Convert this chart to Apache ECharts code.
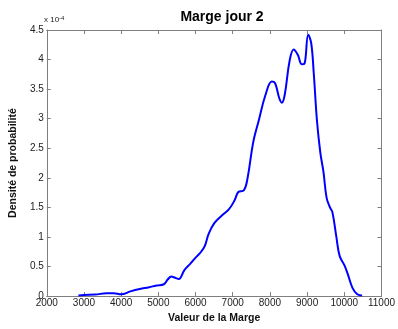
<!DOCTYPE html>
<html><head><meta charset="utf-8">
<script src="https://cdn.jsdelivr.net/npm/echarts@6/dist/echarts.min.js"></script>
<style>html,body{margin:0;padding:0;background:#fff}#c{width:398px;height:329px}</style>
</head><body><div id="c"></div>
<script>
var titleText = "Marge jour 2";
var xLabel = "Valeur de la Marge";
var yLabel = "Densité de probabilité";
var yScaleNote = "x 10";
var yScaleExp = "-4";
// x values (Valeur de la Marge)
var margeValues = [2850,3000,3300,3600,3800,4000,4250,4500,4750,4950,5150,5250,5350,5450,5550,5700,5850,6000,6150,6250,6350,6500,6700,6900,7050,7150,7300,7400,7550,7700,7880,8050,8140,8250,8320,8400,8530,8640,8750,8860,8930,9030,9110,9180,9265,9355,9440,9525,9615,9680,9785,9875,10005,10090,10220,10350,10480];
// density in units of 1e-4
var densityE4 = [0.01,0.02,0.025,0.05,0.05,0.03,0.08,0.12,0.15,0.18,0.2,0.28,0.33,0.31,0.29,0.44,0.54,0.65,0.75,0.85,1.05,1.23,1.36,1.47,1.62,1.76,1.79,2.0,2.6,2.97,3.4,3.63,3.6,3.35,3.27,3.41,3.98,4.17,4.08,3.92,3.93,4.42,4.28,3.76,2.97,2.43,2.10,1.66,1.50,1.42,1.01,0.68,0.52,0.38,0.14,0.03,0.01];
var xTicks = [2000,3000,4000,5000,6000,7000,8000,9000,10000,11000];
var yTicks = [0,0.5,1,1.5,2,2.5,3,3.5,4,4.5];

var pts = margeValues.map(function(v,i){return [v, densityE4[i]];});
var axisCol = '#7f7f7f';
var font = 'Liberation Sans, Arial, sans-serif';
var chart = echarts.init(document.getElementById('c'), null, {renderer:'canvas'});
var baseX = {type:'value', min:xTicks[0], max:xTicks[xTicks.length-1], interval:1000,
  axisLine:{show:true, onZero:false, lineStyle:{color:axisCol,width:1}},
  axisTick:{show:true, inside:true, length:4, lineStyle:{color:axisCol}},
  splitLine:{show:false}};
var baseY = {type:'value', min:yTicks[0], max:yTicks[yTicks.length-1], interval:0.5,
  axisLine:{show:true, onZero:false, lineStyle:{color:axisCol,width:1}},
  axisTick:{show:true, inside:true, length:4, lineStyle:{color:axisCol}},
  splitLine:{show:false}};
chart.setOption({
  animation:false,
  backgroundColor:'#fff',
  title:{text:titleText, left:217, top:5, textAlign:'center',
    textStyle:{fontFamily:font, fontSize:14, fontWeight:'bold', color:'#000'}},
  grid:{left:44, right:8, top:30, bottom:24},
  xAxis:[
    Object.assign({}, baseX, {position:'bottom',
      axisLabel:{show:true, fontFamily:font, fontSize:10, color:'#222', margin:2, showMaxLabel:true,
        formatter:function(v){return String(v);}},
      name:xLabel, nameLocation:'middle', nameGap:12,
      nameTextStyle:{fontFamily:font, fontSize:10.5, fontWeight:'bold', color:'#111'}}),
    Object.assign({}, baseX, {position:'top', axisLabel:{show:false}})
  ],
  yAxis:[
    Object.assign({}, baseY, {position:'left',
      axisLabel:{show:true, fontFamily:font, fontSize:10, color:'#222', margin:3,
        formatter:function(v){return String(v);}},
      name:yLabel, nameLocation:'middle', nameGap:24, nameRotate:90,
      nameTextStyle:{fontFamily:font, fontSize:10.5, fontWeight:'bold', color:'#111'}}),
    Object.assign({}, baseY, {position:'right', axisLabel:{show:false}})
  ],
  graphic:[{type:'text', left:44, top:15,
    style:{text:'{a|'+yScaleNote+'}{b|'+yScaleExp+'}', rich:{
      a:{fontFamily:font, fontSize:8, fill:'#222'},
      b:{fontFamily:font, fontSize:6, fill:'#222', verticalAlign:'top', padding:[0,0,4,0]}}}}],
  series:[{type:'line', data:pts, smooth:0.4, symbol:'none', xAxisIndex:0, yAxisIndex:0,
    lineStyle:{color:'#0000ff', width:2}}]
});
</script></body></html>
